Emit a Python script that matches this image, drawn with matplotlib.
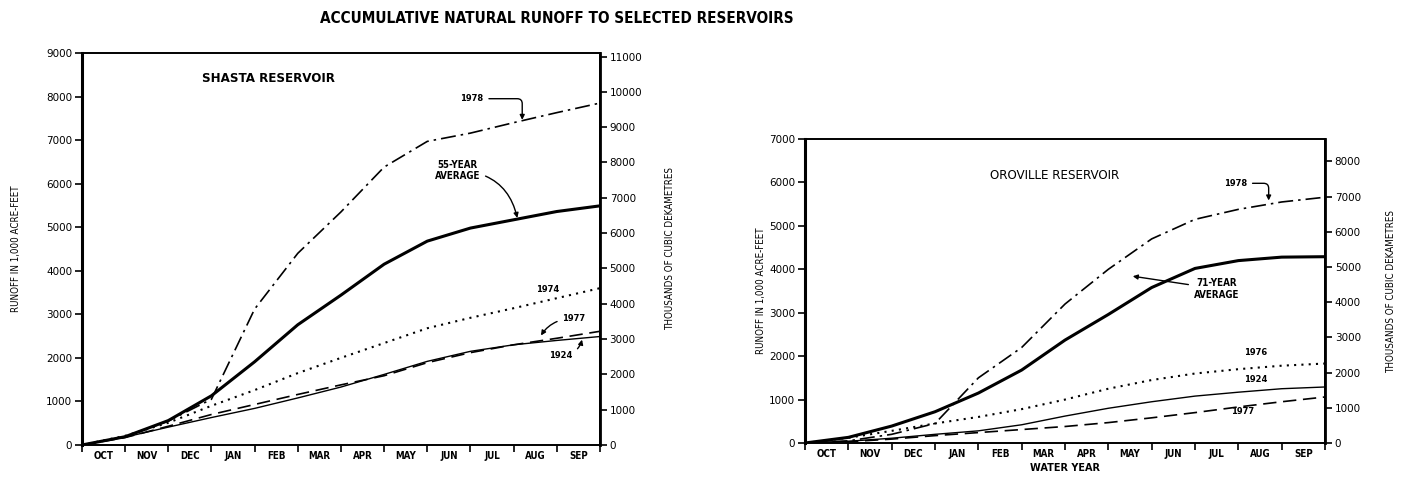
import numpy as np
import matplotlib
matplotlib.use('Agg')
import matplotlib.pyplot as plt

months = ['OCT', 'NOV', 'DEC', 'JAN', 'FEB', 'MAR', 'APR', 'MAY', 'JUN', 'JUL', 'AUG', 'SEP']
# end-of-month positions, 0 = 1 Oct
month_end = np.arange(13)

# Shasta, accumulated runoff in 1,000 acre-feet
shasta_avg = [0, 190, 560, 1130, 1910, 2760, 3440, 4150, 4680, 4980, 5170, 5360, 5490]
shasta_1978 = [0, 190, 550, 1050, 3120, 4400, 5350, 6380, 6970, 7160, 7400, 7630, 7850]
shasta_1974 = [0, 210, 510, 900, 1260, 1650, 2000, 2340, 2680, 2920, 3140, 3370, 3600]
shasta_1977 = [0, 170, 430, 700, 930, 1160, 1380, 1590, 1890, 2120, 2300, 2450, 2610]
shasta_1924 = [0, 180, 410, 630, 840, 1080, 1330, 1620, 1920, 2150, 2300, 2400, 2490]

# Oroville, accumulated runoff in 1,000 acre-feet
oro_avg = [0, 130, 390, 720, 1150, 1680, 2370, 2960, 3580, 4020, 4200, 4280, 4290]
oro_1978 = [0, 50, 200, 450, 1500, 2200, 3200, 4000, 4700, 5150, 5380, 5550, 5660]
oro_1976 = [0, 120, 280, 450, 600, 780, 1000, 1250, 1450, 1600, 1700, 1780, 1830]
oro_1924 = [0, 40, 110, 200, 280, 420, 620, 800, 950, 1080, 1170, 1250, 1290]
oro_1977 = [0, 30, 90, 170, 240, 310, 380, 470, 580, 700, 830, 950, 1060]

DAM3_PER_KAF = 1.2335

plt.rcParams['font.family'] = ['DejaVu Sans']
fig = plt.figure(figsize=(14.03, 4.82), dpi=100)


def setup(ax, ymax, dam_ticks, show_xlabel, lpad, rpad):
    ax.set_xlim(0, 12)
    ax.set_ylim(0, ymax)
    ax.set_xticks(month_end)
    ax.set_xticklabels([])
    ax.set_xticks(np.arange(12) + 0.5, minor=True)
    ax.set_xticklabels(months, minor=True, fontsize=7, fontweight='bold',
                       fontstretch='condensed')
    ax.tick_params(axis='x', which='minor', length=0, pad=4)
    ax.tick_params(axis='x', which='major', length=5, width=1.2, direction='out')
    ax.set_yticks(np.arange(0, ymax + 1, 1000))
    ax.tick_params(axis='y', length=5, width=1.2, labelsize=7.5, pad=2)
    for s in ax.spines.values():
        s.set_linewidth(1.4)
    ax.spines['left'].set_linewidth(2.2)
    ax.set_ylabel('RUNOFF IN 1,000 ACRE-FEET', fontsize=7, labelpad=lpad,
                  fontstretch='condensed')
    if show_xlabel:
        ax.set_xlabel('WATER YEAR', fontsize=7, fontweight='bold', labelpad=3)
    sec = ax.secondary_yaxis('right', functions=(lambda v: v * DAM3_PER_KAF,
                                                 lambda v: v / DAM3_PER_KAF))
    sec.set_yticks(dam_ticks)
    sec.tick_params(length=5, width=1.2, labelsize=7.5, pad=2)
    sec.spines['right'].set_linewidth(2.0)
    sec.set_ylabel('THOUSANDS OF CUBIC DEKAMETRES', fontsize=7, labelpad=rpad,
                   fontstretch='condensed')


def draw(ax, avg, wet, dry_dot, y1977, y1924):
    ax.plot(month_end, avg, color='black', lw=2.2, solid_capstyle='round')
    ax.plot(month_end, wet, color='black', lw=1.2, linestyle=(0, (9, 3, 1.5, 3)))
    ax.plot(month_end, dry_dot, color='black', lw=1.5, linestyle=(0, (1, 2.5)))
    ax.plot(month_end, y1977, color='black', lw=1.2, linestyle=(0, (8, 4)))
    ax.plot(month_end, y1924, color='black', lw=1.0)


arrow = dict(arrowstyle='-|>', color='black', lw=1.0, mutation_scale=7)
small = dict(fontsize=6, fontweight='bold')

# Shasta
ax1 = fig.add_axes([0.0584, 0.0768, 0.3692, 0.8133])
draw(ax1, shasta_avg, shasta_1978, shasta_1974, shasta_1977, shasta_1924)
setup(ax1, 9000, np.arange(0, 11001, 1000), False, 18, 16)
ax1.text(0.36, 0.935, 'SHASTA RESERVOIR', transform=ax1.transAxes,
         ha='center', va='center', fontsize=9.5, fontweight='bold',
         fontstretch='condensed')
ax1.annotate('1978', xy=(10.2, 7400), xytext=(9.3, 7950), ha='right', va='center',
             arrowprops=dict(arrow, connectionstyle='angle,angleA=0,angleB=90,rad=5'),
             **small)
ax1.annotate('55-YEAR\nAVERAGE', xy=(10.1, 5150), xytext=(8.7, 6300), ha='center',
             va='center', arrowprops=dict(arrow, connectionstyle='arc3,rad=-0.4'),
             fontsize=7, fontweight='bold', fontstretch='condensed')
ax1.text(10.8, 3470, '1974', ha='center', va='bottom', **small)
ax1.annotate('1977', xy=(10.6, 2460), xytext=(11.4, 2900), ha='center', va='center',
             arrowprops=dict(arrow, connectionstyle='arc3,rad=0.3'), **small)
ax1.annotate('1924', xy=(11.6, 2480), xytext=(11.1, 2050), ha='center', va='center',
             arrowprops=dict(arrow, connectionstyle='arc3,rad=0.4'), **small)

# Oroville
ax2 = fig.add_axes([0.5738, 0.0809, 0.3706, 0.6307])
draw(ax2, oro_avg, oro_1978, oro_1976, oro_1977, oro_1924)
setup(ax2, 7000, np.arange(0, 8001, 1000), True, 2, 18)
ax2.text(0.48, 0.88, 'OROVILLE RESERVOIR', transform=ax2.transAxes,
         ha='center', va='center', fontsize=9.5, fontstretch='condensed')
ax2.annotate('1978', xy=(10.7, 5520), xytext=(10.2, 5980), ha='right', va='center',
             arrowprops=dict(arrow, connectionstyle='angle,angleA=0,angleB=90,rad=5'),
             **small)
ax2.annotate('71-YEAR\nAVERAGE', xy=(7.5, 3850), xytext=(9.5, 3550), ha='center',
             va='center', arrowprops=dict(arrow, connectionstyle='arc3,rad=0'),
             fontsize=7, fontweight='bold', fontstretch='condensed')
ax2.text(10.4, 1980, '1976', ha='center', va='bottom', **small)
ax2.text(10.4, 1360, '1924', ha='center', va='bottom', **small)
ax2.text(10.1, 830, '1977', ha='center', va='top', **small)

fig.text(0.397, 0.962, 'ACCUMULATIVE NATURAL RUNOFF TO SELECTED RESERVOIRS',
         ha='center', va='center', fontsize=11, fontweight='bold',
         fontstretch='condensed')

fig.savefig('out.png', dpi=100)
